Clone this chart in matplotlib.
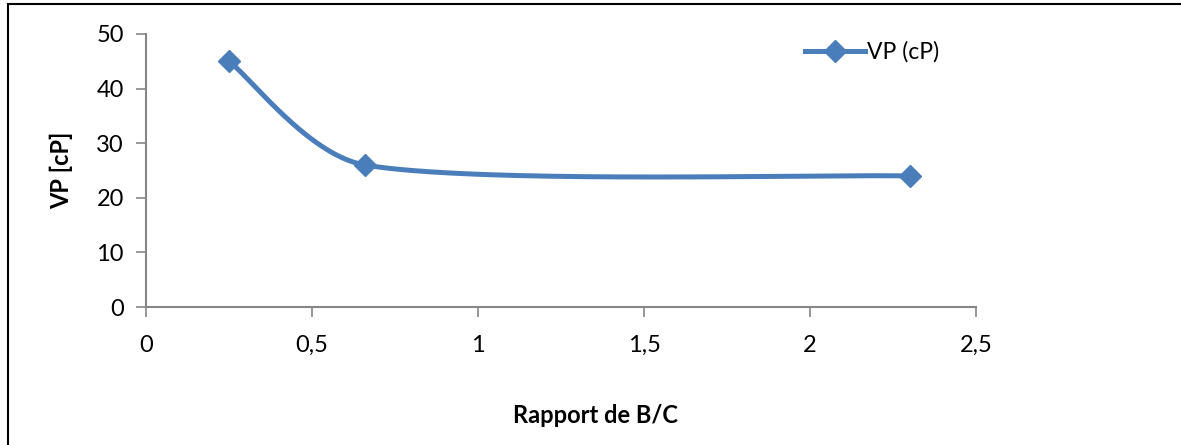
import numpy as np
import matplotlib
matplotlib.use("Agg")
import matplotlib.pyplot as plt
from matplotlib.patches import Rectangle
from matplotlib.ticker import FuncFormatter

plt.rcParams['font.family'] = ['Lato', 'DejaVu Sans']

# Data
ratio_bc = [0.25, 0.66, 2.3]
vp_cp = [45, 26, 24]
series_label = "VP (cP)"
x_ticks = [0, 0.5, 1, 1.5, 2, 2.5]
y_ticks = [0, 10, 20, 30, 40, 50]

BLUE = "#4A7EBB"
AXIS_GRAY = "#868686"


def smooth_curve(ax, xs, ys, n=80):
    """Cubic Bezier smoothing through the points, built in display space."""
    to_disp = ax.transData
    pts = to_disp.transform(np.column_stack([xs, ys]).astype(float))
    out = []
    for i in range(len(pts) - 1):
        p0 = pts[i - 1] if i > 0 else pts[i]
        p1 = pts[i]
        p2 = pts[i + 1]
        p3 = pts[i + 2] if i + 2 < len(pts) else pts[i + 1]
        seg_len = np.hypot(*(p2 - p1))
        t1 = (p2 - p0) / 6.0
        t2 = (p3 - p1) / 6.0
        # keep the handles from overshooting short segments
        for t in (t1, t2):
            mag = np.hypot(*t)
            if mag > seg_len / 3.0:
                t *= (seg_len / 3.0) / mag
        c1 = p1 + t1
        c2 = p2 - t2
        s = np.linspace(0, 1, n)[:, None]
        seg = ((1 - s) ** 3) * p1 + 3 * ((1 - s) ** 2) * s * c1 \
            + 3 * (1 - s) * s ** 2 * c2 + s ** 3 * p2
        out.append(seg if i == 0 else seg[1:])
    curve = to_disp.inverted().transform(np.vstack(out))
    return curve[:, 0], curve[:, 1]


fig = plt.figure(figsize=(11.81, 4.45), dpi=100)
ax = fig.add_axes([146 / 1181, 1 - 307 / 445, (976 - 146) / 1181, (307 - 34) / 445])

ax.set_xlim(0, 2.5)
ax.set_ylim(0, 50)

sx, sy = smooth_curve(ax, ratio_bc, vp_cp)
ax.plot(sx, sy, color=BLUE, lw=3.6, solid_capstyle='round', zorder=2)
ax.plot(ratio_bc, vp_cp, linestyle='none', marker='D', markersize=11.5,
        color=BLUE, zorder=3)
# legend proxy
ax.plot([], [], color=BLUE, lw=3.6, marker='D', markersize=11.5, label=series_label)

ax.set_xticks(x_ticks)
ax.set_yticks(y_ticks)
fmt = FuncFormatter(lambda v, p: ('%g' % v).replace('.', ','))
ax.xaxis.set_major_formatter(fmt)
ax.yaxis.set_major_formatter(fmt)

for side in ('top', 'right'):
    ax.spines[side].set_visible(False)
for side in ('left', 'bottom'):
    ax.spines[side].set_color(AXIS_GRAY)
    ax.spines[side].set_linewidth(1.5)
ax.tick_params(axis='both', direction='out', length=7, width=1.2,
               color=AXIS_GRAY, labelsize=17, labelcolor='black')
ax.tick_params(axis='x', pad=13)
ax.tick_params(axis='y', pad=9)

ax.set_xlabel("Rapport de B/C", fontsize=17, fontweight='bold')
ax.xaxis.label.set_va('center')
ax.xaxis.set_label_coords(0.541, -0.399)
ax.set_ylabel("VP [cP]", fontsize=17, fontweight='bold')
ax.yaxis.label.set_va('center')
ax.yaxis.set_label_coords(-0.1024, 0.502)

leg = ax.legend(loc='center left', bbox_to_anchor=(0.794, 0.934), frameon=False,
                fontsize=16.5, handlelength=2.6, handletextpad=0.1,
                borderaxespad=0, borderpad=0)

# outer chart border
fig.patches.append(Rectangle((8 / 1181, -0.05), 1.2, 1.05 - 4 / 445,
                             transform=fig.transFigure, fill=False,
                             edgecolor='black', linewidth=1.5))

fig.savefig("out.png", dpi=100)
